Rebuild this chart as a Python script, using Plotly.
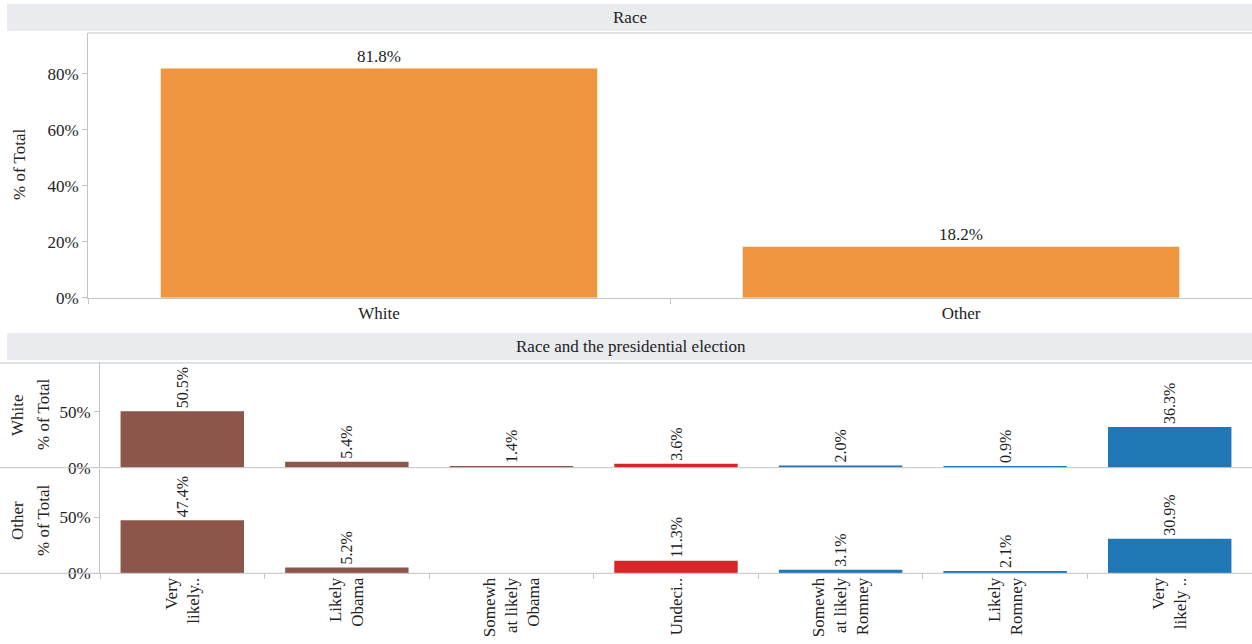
import plotly.graph_objects as go

# ---- data ----
race_cats = ["White", "Other"]
race_pct = [81.8, 18.2]

vote_cats = ["Very likely Obama", "Likely Obama", "Somewhat likely Obama", "Undecided",
             "Somewhat likely Romney", "Likely Romney", "Very likely Romney"]
vote_labels = ["Very<br>likely..", "Likely<br>Obama", "Somewh<br>at likely<br>Obama", "Undeci..",
               "Somewh<br>at likely<br>Romney", "Likely<br>Romney", "Very<br>likely .."]
white_pct = [50.5, 5.4, 1.4, 3.6, 2.0, 0.9, 36.3]
other_pct = [47.4, 5.2, None, 11.3, 3.1, 2.1, 30.9]

top_tickvals = [0, 20, 40, 60, 80]
top_ticktext = ["0%", "20%", "40%", "60%", "80%"]
bot_tickvals = [0, 50]
bot_ticktext = ["0%", "50%"]

ORANGE = "#F0953F"
BROWN = "#8C564B"
RED = "#D62728"
BLUE = "#1F77B4"
vote_colors = [BROWN, BROWN, BROWN, RED, BLUE, BLUE, BLUE]

W, H = 1252, 644
FONT = "Liberation Serif, Times New Roman, serif"
TXT = "#222222"
LINE = "#C4C4C4"
BAND = "#EAEBEE"
FS = 17

def px(xp):
    return xp / W

def py(yp):
    return 1 - yp / H

fig = go.Figure()

fig.add_trace(go.Bar(
    x=race_cats, y=race_pct, xaxis="x", yaxis="y", width=0.75,
    marker=dict(color=ORANGE, line=dict(width=0)),
    texttemplate="%{y:.1f}%", textposition="outside", cliponaxis=False,
    textfont=dict(family=FONT, size=FS, color=TXT), constraintext="none",
    hoverinfo="x+y", showlegend=False))

fig.add_trace(go.Bar(
    x=vote_cats, y=white_pct, xaxis="x2", yaxis="y2", width=0.75,
    marker=dict(color=vote_colors, line=dict(width=0)),
    texttemplate="%{y:.1f}%", textposition="outside", textangle=-90, cliponaxis=False,
    textfont=dict(family=FONT, size=FS - 1, color=TXT), constraintext="none",
    showlegend=False))

fig.add_trace(go.Bar(
    x=vote_cats, y=other_pct, xaxis="x3", yaxis="y3", width=0.75,
    marker=dict(color=vote_colors, line=dict(width=0)),
    texttemplate="%{y:.1f}%", textposition="outside", textangle=-90, cliponaxis=False,
    textfont=dict(family=FONT, size=FS - 1, color=TXT), constraintext="none",
    showlegend=False))

tickfont = dict(family=FONT, size=FS, color=TXT)

common_y = dict(showgrid=False, zeroline=False, showline=True, linecolor=LINE, linewidth=1,
                ticks="outside", ticklen=5, tickcolor=LINE, tickfont=tickfont,
                fixedrange=True, automargin=False)

fig.update_layout(
    width=W, height=H,
    margin=dict(l=0, r=0, t=0, b=0, autoexpand=False),
    paper_bgcolor="white", plot_bgcolor="white",
    font=dict(family=FONT, color=TXT),
    xaxis=dict(domain=[px(88), 1], anchor="y", type="category", categoryorder="array",
               categoryarray=race_cats, showgrid=False, showline=True, linecolor=LINE,
               ticks="outside", tickson="boundaries", ticklen=5, tickcolor=LINE,
               tickfont=tickfont, automargin=False, fixedrange=True),
    yaxis=dict(domain=[py(297.7), py(33)], range=[0, 94.5], tickvals=top_tickvals,
               ticktext=top_ticktext, anchor="x", **common_y),
    xaxis2=dict(domain=[px(100), 1], anchor="y2", type="category", categoryorder="array",
                categoryarray=vote_cats, showgrid=False, showline=False,
                showticklabels=False, ticks="", automargin=False, fixedrange=True),
    yaxis2=dict(domain=[py(467.7), py(362)], range=[0, 94.4], tickvals=bot_tickvals,
                ticktext=bot_ticktext, anchor="x2", **common_y),
    xaxis3=dict(domain=[px(100), 1], anchor="y3", type="category", categoryorder="array",
                categoryarray=vote_cats, showgrid=False, showline=False,
                ticks="outside", tickson="boundaries", ticklen=5, tickcolor=LINE,
                tickvals=vote_cats, ticktext=vote_labels, tickangle=-90, tickfont=tickfont,
                automargin=False, fixedrange=True),
    yaxis3=dict(domain=[py(573.3), py(469)], range=[0, 93.1], tickvals=bot_tickvals,
                ticktext=bot_ticktext, anchor="x3", **common_y),
)

shapes = [
    dict(type="rect", xref="paper", yref="paper", x0=px(7), x1=1, y0=py(31), y1=py(4),
         fillcolor=BAND, line=dict(width=0), layer="below"),
    dict(type="rect", xref="paper", yref="paper", x0=px(7), x1=1, y0=py(360), y1=py(333),
         fillcolor=BAND, line=dict(width=0), layer="below"),
    dict(type="line", xref="paper", yref="paper", x0=px(88), x1=1, y0=py(33), y1=py(33),
         line=dict(color=LINE, width=1)),
]
for yy in [363, 467.7, 573.3]:
    shapes.append(dict(type="line", xref="paper", yref="paper", x0=0, x1=1, y0=py(yy), y1=py(yy),
                       line=dict(color=LINE, width=1)))

def ann(text, x, y, angle=0):
    return dict(text=text, xref="paper", yref="paper", x=px(x), y=py(y), textangle=angle,
                showarrow=False, font=dict(family=FONT, size=FS, color=TXT),
                xanchor="center", yanchor="middle")

annotations = [
    ann("Race", 629.5, 17.5),
    ann("Race and the presidential election", 631, 346.5),
    ann("% of Total", 19, 165, -90),
    ann("White", 17, 415, -90),
    ann("% of Total", 43, 415, -90),
    ann("Other", 17, 521, -90),
    ann("% of Total", 43, 521, -90),
]

fig.update_layout(shapes=shapes, annotations=annotations)

fig.write_html("out.html",
               config={"displayModeBar": False},
               post_script="document.body.style.margin='0';document.body.style.padding='0';"
                           "document.body.style.overflow='hidden';")
